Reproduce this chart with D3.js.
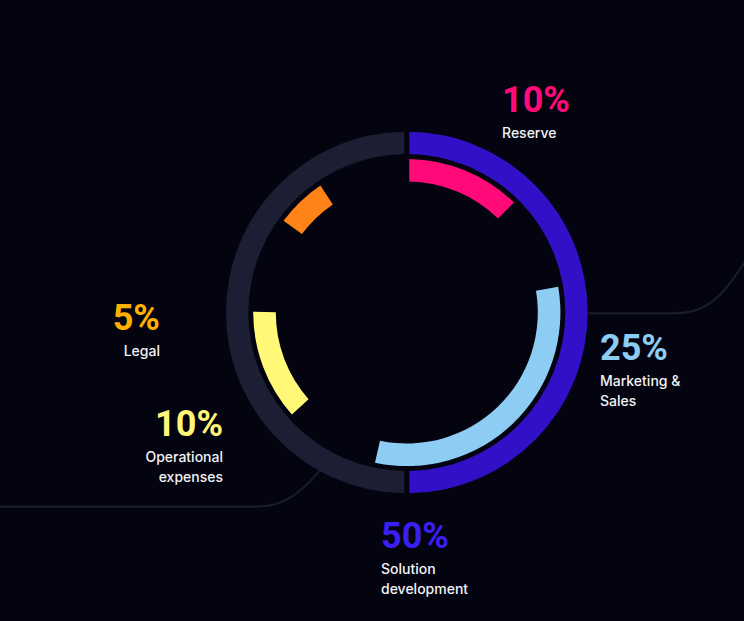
<!DOCTYPE html>
<html>
<head>
<meta charset="utf-8">
<script src="https://cdn.jsdelivr.net/npm/d3@7"></script>
<style>
  html, body { margin: 0; padding: 0; background: #03040f; }
  svg { display: block; }
</style>
</head>
<body>
<svg id="chart" width="744" height="621"></svg>
<script>
// ---- data ----
const categories = ["Reserve", "Marketing & Sales", "Solution development", "Legal", "Operational expenses"];
const shares = [10, 25, 50, 5, 10];
const labelLines = [["Reserve"], ["Marketing &", "Sales"], ["Solution", "development"], ["Legal"], ["Operational", "expenses"]];
const colors = ["#ff0a78", "#8ecdf3", "#3a1ff2", "#ffb000", "#fff677"];
// inner arc extents (degrees clockwise from top)
const innerNames = ["Reserve", "Marketing & Sales", "Operational expenses", "Legal"];
const innerStart = [0, 79.4, 227.5, 305.7];
const innerEnd = [45.2, 192.9, 271.2, 326.7];
const innerColors = ["#ff0a78", "#8ecdf3", "#fff977", "#ff8316"];
// outer ring halves
const outerStart = [0, 180];
const outerEnd = [180, 360];
const outerColors = ["#3110c8", "#1c1f33"];

// ---- layout ----
const svg = d3.select("#chart");
const cx = 406.8, cy = 312.5;
const ang = d3.scaleLinear().domain([0, 360]).range([0, 2 * Math.PI]);

// decorative connector lines
svg.append("path")
  .attr("d", "M588,313.3 H676 C706,313.3 722,298 746,260")
  .attr("fill", "none").attr("stroke", "#1b1d2a").attr("stroke-width", 2);
svg.append("path")
  .attr("d", "M-2,506.7 H256 C284,506.7 302,494 330,458")
  .attr("fill", "none").attr("stroke", "#1b1d2a").attr("stroke-width", 2);

const g = svg.append("g").attr("transform", `translate(${cx},${cy})`);

const outerArc = d3.arc().innerRadius(158.5).outerRadius(180.8).padAngle(0.05).padRadius(100);
g.selectAll("path.outer").data(outerStart.map((s, i) => ({s, e: outerEnd[i], c: outerColors[i]})))
  .join("path").attr("class", "outer")
  .attr("d", d => outerArc({startAngle: ang(d.s), endAngle: ang(d.e)}))
  .attr("fill", d => d.c);

const innerArc = d3.arc().innerRadius(131).outerRadius(153.6).padAngle(0.05).padRadius(100);
g.selectAll("path.inner").data(innerStart.map((s, i) => ({s, e: innerEnd[i], c: innerColors[i]})))
  .join("path").attr("class", "inner")
  .attr("d", d => innerArc({startAngle: ang(d.s), endAngle: ang(d.e)}))
  .attr("fill", d => d.c);

// labels: anchor positions
const labelX = [502, 600, 381, 160, 223];
const labelY = [112, 360, 548, 330, 436];
const labelAnchor = ["start", "start", "start", "end", "end"];

const lab = svg.selectAll("g.lab").data(categories).join("g").attr("class", "lab")
  .attr("transform", (d, i) => `translate(${labelX[i]},${labelY[i]})`);
lab.append("text")
  .attr("text-anchor", (d, i) => labelAnchor[i])
  .attr("font-family", "Roboto, 'Noto Sans', sans-serif")
  .attr("font-weight", 700)
  .attr("font-size", 36)
  .attr("fill", (d, i) => colors[i])
  .text((d, i) => shares[i] + "%");
lab.each(function(d, i) {
  const sel = d3.select(this);
  labelLines[i].forEach((line, j) => {
    sel.append("text")
      .attr("text-anchor", labelAnchor[i])
      .attr("y", 26 + j * 20)
      .attr("font-family", "Inter, 'Noto Sans', sans-serif")
      .attr("font-weight", 500)
      .attr("font-size", 14)
      .attr("fill", "#f2f2f7")
      .text(line);
  });
});
</script>
</body>
</html>
